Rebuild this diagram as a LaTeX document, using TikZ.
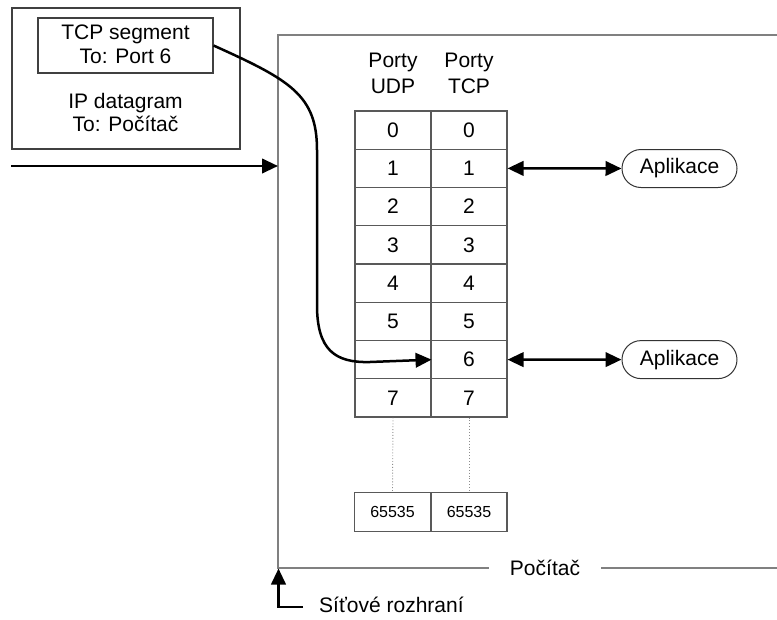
\documentclass[tikz,border=0pt]{standalone}
\usepackage{fontspec}
\setmainfont{Liberation Sans}
\usetikzlibrary{arrows.meta,shapes.misc}
\begin{document}
\begin{tikzpicture}[x=1pt,y=-1pt,
  txt/.style={font=\fontsize{21}{24}\selectfont, align=center, inner sep=0pt},
  box/.style={draw=black!75, line width=1.1pt},
  frame/.style={draw=black!50, line width=1.2pt},
  cell/.style={draw=black!65, line width=1.1pt, minimum width=76pt,
    minimum height=38.3pt, inner sep=0pt, font=\fontsize{21}{24}\selectfont},
  smallcell/.style={cell, font=\fontsize{16}{19}\selectfont},
  app/.style={rounded rectangle, draw=black!80, line width=1pt,
    minimum width=115pt, minimum height=38pt, inner sep=0pt,
    font=\fontsize{21}{24}\selectfont},
  tip/.tip={Triangle[length=16pt,width=14.5pt]},
  flow/.style={line width=2.5pt, -tip},
  both/.style={line width=2.5pt, tip-tip},
  gap/.style={draw=black!45, line width=0.9pt, dotted}
]
\useasboundingbox (0,0) rectangle (777,619);

% IP datagram carrying the TCP segment
\node[box, minimum width=228pt, minimum height=141pt, inner sep=0pt] (ip) at (126,78.5) {};
\node[box, minimum width=175pt, minimum height=55pt, inner sep=0pt] (tcp) at (125.5,45.5) {};
\node[txt, anchor=base] (tcp1) at (125.5,39.3) {TCP segment};
\node[txt, anchor=base] (tcp2) at (125.5,63.3) {To: Port 6};
\node[txt, anchor=base] (ip1) at (125.5,108) {IP datagram};
\node[txt, anchor=base] (ip2) at (125.5,131) {To: Počítač};

% the computer
\coordinate (ctl) at (278,35);
\coordinate (ctr) at (777,35);
\coordinate (cbl) at (278,568);
\coordinate (cbr) at (777,568);
\node[txt, anchor=base, inner xsep=21pt] (pc) at (545,575) {Počítač};
\draw[frame] (ctr) -- (ctl) -- (cbl) -- (cbl -| pc.west);
\draw[frame] (cbr -| pc.east) -- (cbr);

% incoming datagram
\coordinate (src) at (11,166);
\coordinate (nic) at (278,166);
\draw[flow] (src) -- (nic);

% network interface label
\node[txt, anchor=base west] (sr) at (319,612.5) {Síťové rozhraní};
\coordinate (srend) at (303,607);
\coordinate (srcorner) at (278.5,607);
\coordinate (srtip) at (278.5,568.5);
\draw[flow] (srend) -- (srcorner) -- (srtip);

% port table
\node[txt, anchor=base] (hudp1) at (393,67) {Porty};
\node[txt, anchor=base] (hudp2) at (393,93) {UDP};
\node[txt, anchor=base] (htcp1) at (469,67) {Porty};
\node[txt, anchor=base] (htcp2) at (469,93) {TCP};
\foreach \i in {0,...,7} {
  \pgfmathsetmacro{\yy}{111+38.25*(\i+0.5)}
  \ifnum\i=6
    \node[cell] (u\i) at (393,\yy) {};
  \else
    \node[cell] (u\i) at (393,\yy) {\i};
  \fi
  \node[cell] (t\i) at (469,\yy) {\i};
}
\node[smallcell] (ulast) at (392.5,512) {65535};
\node[smallcell] (tlast) at (469,512) {65535};
\draw[gap] (u7.south) -- (ulast.north);
\draw[gap] (t7.south) -- (tlast.north);

% applications
\node[app] (a1) at (679.5,168.5) {Aplikace};
\node[app] (a6) at (679.5,359.6) {Aplikace};
\draw[both] (t1.east) -- (a1.west);
\draw[both] (t6.east) -- (a6.west);

% segment delivered to port 6
\draw[flow] (tcp.east) .. controls (290,80) and (317,95) .. (317,150)
  -- (317,305) .. controls (317,350) and (335,363) .. (370,362) -- (u6.east);
\end{tikzpicture}
\end{document}
